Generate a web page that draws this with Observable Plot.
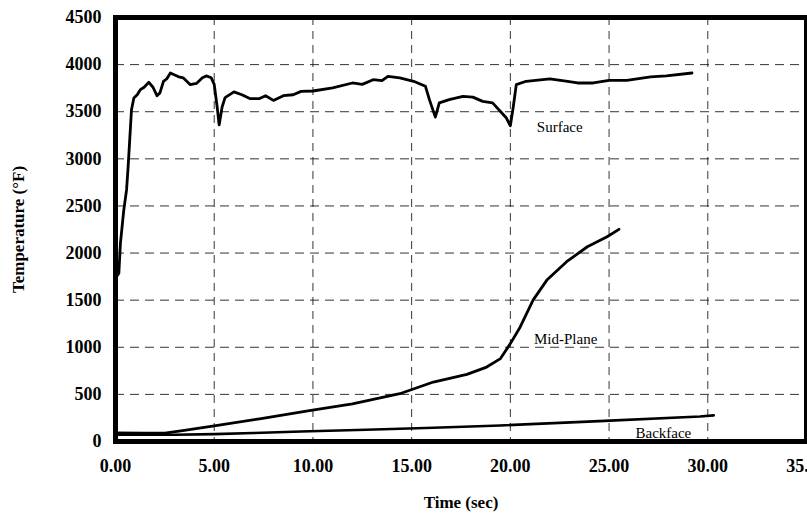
<!DOCTYPE html>
<html>
<head>
<meta charset="utf-8">
<script src="https://cdn.jsdelivr.net/npm/d3@7"></script>
<script src="https://cdn.jsdelivr.net/npm/@observablehq/plot@0.6"></script>
<style>
  html, body { margin: 0; padding: 0; background: #fff; }
  #chart svg { display: block; }
</style>
</head>
<body>
<div id="chart"></div>
<script>
// Surface temperature (time s, temperature °F)
const surfaceTime = [0.05,0.17,0.25,0.42,0.56,0.64,0.72,0.81,0.93,1.1,1.26,1.45,1.69,1.9,2.1,2.25,2.43,2.6,2.78,3.0,3.2,3.44,3.79,4.1,4.4,4.6,4.85,5.0,5.15,5.25,5.4,5.55,6.0,6.4,6.8,7.3,7.6,8.0,8.5,9.0,9.4,10.0,11.0,12.0,12.5,13.05,13.5,13.8,14.4,15.1,15.7,15.9,16.2,16.4,16.9,17.6,18.1,18.6,19.1,19.5,19.8,20.0,20.15,20.3,20.8,22.0,22.9,23.4,24.2,25.0,25.9,27.1,27.9,29.2];
const surfaceTemp = [1750,1787,2106,2457,2670,2918,3202,3521,3646,3680,3734,3760,3812,3760,3670,3700,3822,3850,3911,3890,3870,3859,3787,3800,3860,3880,3860,3790,3550,3360,3550,3650,3710,3680,3640,3640,3670,3620,3670,3680,3716,3720,3752,3805,3790,3840,3830,3876,3860,3823,3770,3628,3443,3594,3628,3663,3655,3610,3594,3503,3433,3351,3556,3787,3823,3848,3823,3805,3805,3833,3833,3869,3880,3911];

// Mid-plane temperature
const midTime = [0,1.5,2.5,3.4,5.0,7.3,9.9,12.0,14.4,16.1,17.8,18.8,19.5,20.0,20.5,21.15,21.85,22.85,23.9,24.9,25.5];
const midTemp = [90,88,88,115,165,241,330,400,507,631,713,790,880,1039,1216,1500,1713,1908,2067,2173,2252];

// Backface temperature
const backTime = [0,3,5,7,9.4,12.7,16.1,19.5,24.5,29.6,30.3];
const backTemp = [72,72,78,90,106,124,146,170,216,266,277];

// Axis ticks and labels
const xTicks = [0,5,10,15,20,25,30,35];
const yTicks = [0,500,1000,1500,2000,2500,3000,3500,4000,4500];
const seriesLabels = [
  {name: "Surface", t: 22.5, v: 3340},
  {name: "Mid-Plane", t: 22.8, v: 1085},
  {name: "Backface", t: 27.75, v: 85}
];

const toRows = (ts, vs) => ts.map((t, i) => ({t, v: vs[i]}));
const surface = toRows(surfaceTime, surfaceTemp);
const mid = toRows(midTime, midTemp);
const back = toRows(backTime, backTemp);

const serif = "'Liberation Serif', 'Times New Roman', serif";

const chart = Plot.plot({
  width: 807,
  height: 515,
  marginLeft: 115,
  marginRight: 1,
  marginTop: 17,
  marginBottom: 74,
  style: {fontFamily: serif, fontSize: "18px", fontWeight: "bold", color: "#000", background: "#fff", overflow: "visible"},
  x: {domain: [0, 35]},
  y: {domain: [0, 4500]},
  marks: [
    Plot.gridX(xTicks.slice(1, -1), {stroke: "#111", strokeOpacity: 0.85, strokeDasharray: "8,6", strokeWidth: 1}),
    Plot.gridY(yTicks.slice(1, -1), {stroke: "#111", strokeOpacity: 0.85, strokeDasharray: "9,6", strokeWidth: 1}),
    Plot.line(back, {x: "t", y: "v", stroke: "#000", strokeWidth: 2.6}),
    Plot.line(mid, {x: "t", y: "v", stroke: "#000", strokeWidth: 2.8}),
    Plot.line(surface, {x: "t", y: "v", stroke: "#000", strokeWidth: 2.8, curve: "linear"}),
    Plot.text(seriesLabels, {x: "t", y: "v", text: "name", fontSize: 15, fontWeight: "normal", fontFamily: serif, fill: "#000"}),
    Plot.frame({stroke: "#000", strokeWidth: 5}),
    Plot.axisX(xTicks, {tickSize: 0, tickPadding: 18, tickFormat: d => d.toFixed(2), label: null, fontSize: 18}),
    Plot.axisY(yTicks, {tickSize: 0, tickPadding: 14, tickFormat: d => String(d), label: null, fontSize: 18}),
    Plot.text(["Time (sec)"], {frameAnchor: "bottom", textAnchor: "middle", dy: 66, fontSize: 17, fontWeight: "bold", fontFamily: serif}),
    Plot.text(["Temperature (°F)"], {frameAnchor: "left", textAnchor: "middle", dx: -97, rotate: -90, fontSize: 17, fontWeight: "bold", fontFamily: serif, letterSpacing: "1px"})
  ]
});
document.getElementById("chart").appendChild(chart);
</script>
</body>
</html>
